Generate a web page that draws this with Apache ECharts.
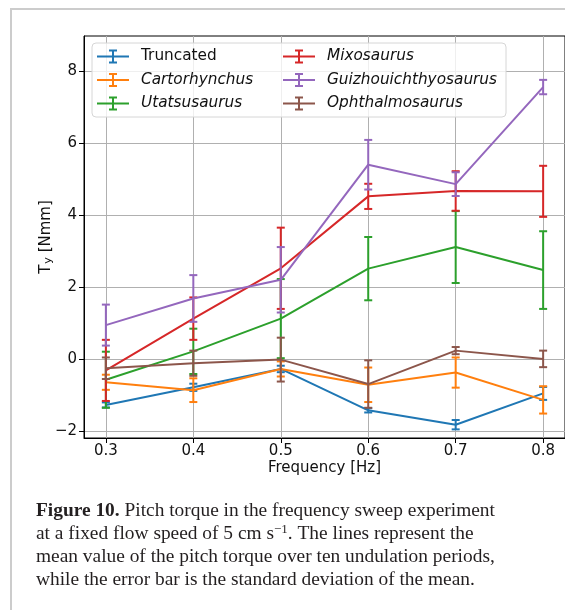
<!DOCTYPE html>
<html>
<head>
<meta charset="utf-8">
<script src="https://cdn.jsdelivr.net/npm/echarts@6/dist/echarts.min.js"></script>
<style>
  html, body { margin: 0; padding: 0; background: #fff; }
  #chart { width: 565px; height: 610px; }
</style>
</head>
<body>
<div id="chart"></div>
<script>
// frequencies (Hz)
const freq = [0.3, 0.4, 0.5, 0.6, 0.7, 0.8]

// mean pitch torque and its standard deviation, per model
const truncatedMean = [-1.27, -0.78, -0.27, -1.42, -1.82, -0.95]
const truncatedErr = [0.07, 0.10, 0.09, 0.06, 0.13, 0.18]
const cartorhynchusMean = [-0.64, -0.86, -0.27, -0.71, -0.37, -1.13]
const cartorhynchusErr = [0.21, 0.33, 0.21, 0.48, 0.42, 0.38]
const utatsusaurusMean = [-0.57, 0.22, 1.13, 2.52, 3.12, 2.48]
const utatsusaurusErr = [0.78, 0.63, 1.10, 0.88, 1.00, 1.08]
const mixosaurusMean = [-0.31, 1.13, 2.53, 4.53, 4.68, 4.67]
const mixosaurusErr = [0.85, 0.59, 1.13, 0.35, 0.55, 0.71]
const guizhouMean = [0.95, 1.69, 2.21, 5.41, 4.87, 7.57]
const guizhouErr = [0.57, 0.65, 0.91, 0.69, 0.33, 0.20]
const ophthalmoMean = [-0.25, -0.11, -0.01, -0.69, 0.24, 0.01]
const ophthalmoErr = [0.30, 0.35, 0.61, 0.66, 0.10, 0.23]

// tick labels
const xTicks = [0.3, 0.4, 0.5, 0.6, 0.7, 0.8]
const yTicks = [-2, 0, 2, 4, 6, 8]

const models = [
  { name: 'Truncated', mean: truncatedMean, err: truncatedErr, color: '#1f77b4' },
  { name: 'Cartorhynchus', mean: cartorhynchusMean, err: cartorhynchusErr, color: '#ff7f0e' },
  { name: 'Utatsusaurus', mean: utatsusaurusMean, err: utatsusaurusErr, color: '#2ca02c' },
  { name: 'Mixosaurus', mean: mixosaurusMean, err: mixosaurusErr, color: '#d62728' },
  { name: 'Guizhouichthyosaurus', mean: guizhouMean, err: guizhouErr, color: '#9467bd' },
  { name: 'Ophthalmosaurus', mean: ophthalmoMean, err: ophthalmoErr, color: '#8c564b' },
]

const FONT = 'DejaVu Sans'
const TEXT = '#111'
// errorbar-like legend handle
const ERR_ICON = 'path://M0,6h32v2h-32z M15,0h2v14h-2z M12,0h8v2h-8z M12,12h8v2h-8z'

function errorItem(params, api) {
  const x = api.value(0)
  const y = api.value(1)
  const e = api.value(2)
  const top = api.coord([x, y + e])
  const bot = api.coord([x, y - e])
  const hw = 4
  const style = { stroke: api.visual('color'), lineWidth: 2 }
  return {
    type: 'group',
    children: [
      { type: 'line', shape: { x1: top[0], y1: top[1], x2: bot[0], y2: bot[1] }, style },
      { type: 'line', shape: { x1: top[0] - hw, y1: top[1], x2: top[0] + hw, y2: top[1] }, style },
      { type: 'line', shape: { x1: bot[0] - hw, y1: bot[1], x2: bot[0] + hw, y2: bot[1] }, style },
    ],
  }
}

const series = []
models.forEach((m, i) => {
  series.push({
    name: m.name,
    type: 'line',
    data: freq.map((f, k) => [f, m.mean[k]]),
    showSymbol: false,
    symbol: 'none',
    color: m.color,
    lineStyle: { color: m.color, width: 2 },
    z: 3 + i * 2,
  })
  series.push({
    name: m.name,
    type: 'custom',
    renderItem: errorItem,
    data: freq.map((f, k) => [f, m.mean[k], m.err[k]]),
    encode: { x: 0, y: 1 },
    itemStyle: { color: m.color },
    z: 4 + i * 2,
  })
})

const legendBase = {
  orient: 'vertical',
  top: 49,
  padding: 0,
  itemWidth: 32,
  itemHeight: 14,
  itemGap: 8.5,
  z: 120,
  icon: ERR_ICON,
  itemStyle: { borderWidth: 0 },
  textStyle: {
    fontFamily: FONT,
    fontSize: 15.3,
    lineHeight: 15,
    color: TEXT,
    padding: [0, 0, 0, 7],
    rich: { i: { fontStyle: 'italic', fontFamily: FONT, fontSize: 15.3, color: TEXT } },
  },
  formatter: name => (name === 'Truncated' ? name : '{i|' + name + '}'),
}

const chart = echarts.init(document.getElementById('chart'), null, { renderer: 'canvas' })
chart.setOption({
  animation: false,
  backgroundColor: '#fff',
  title: {
    left: 36,
    top: 500,
    padding: 0,
    text:
      '{b|Figure 10.} Pitch torque in the frequency sweep experiment\n' +
      'at a fixed flow speed of 5 cm s{sup|−1}. The lines represent the\n' +
      'mean value of the pitch torque over ten undulation periods,\n' +
      'while the error bar is the standard deviation of the mean.',
    textStyle: {
      fontFamily: 'Liberation Serif',
      fontSize: 19.4,
      fontWeight: 'normal',
      lineHeight: 22.7,
      color: '#231f20',
      rich: {
        b: { fontFamily: 'Liberation Serif', fontSize: 19.4, fontWeight: 'bold', color: '#231f20', lineHeight: 22.7 },
        sup: { fontFamily: 'Liberation Serif', fontSize: 13, color: '#231f20', verticalAlign: 'top', lineHeight: 22.7, padding: [0, 0, 6, 0] },
      },
    },
  },
  graphic: [
    {
      type: 'rect',
      shape: { x: 11, y: 9, width: 620, height: 700 },
      style: { fill: 'none', stroke: '#cccccc', lineWidth: 2 },
      z: 1,
    },
    {
      type: 'rect',
      shape: { x: 92, y: 43, width: 414, height: 74, r: 4 },
      style: { fill: 'rgba(255,255,255,0.8)', stroke: '#d6d6d6', lineWidth: 1 },
      z: 100,
    },
  ],
  legend: [
    Object.assign({}, legendBase, { left: 97, data: models.slice(0, 3).map(m => m.name) }),
    Object.assign({}, legendBase, { left: 283, data: models.slice(3).map(m => m.name) }),
  ],
  grid: {
    left: 84,
    top: 36,
    width: 482,
    height: 402,
    show: true,
    borderColor: '#000',
    borderWidth: 1,
  },
  xAxis: {
    type: 'value',
    min: 0.275,
    max: 0.825,
    name: 'Frequency [Hz]',
    nameLocation: 'middle',
    nameGap: 22.5,
    nameMoveOverlap: false,
    nameTextStyle: { fontFamily: FONT, fontSize: 15, color: TEXT },
    axisLine: { show: true, onZero: false, lineStyle: { color: '#000', width: 1 } },
    axisTick: { show: true, inside: false, length: 5, lineStyle: { color: '#000' }, customValues: xTicks },
    axisLabel: {
      customValues: xTicks,
      margin: 6,
      fontFamily: FONT,
      fontSize: 15,
      color: TEXT,
      formatter: v => v.toFixed(1),
    },
    splitLine: { show: true, lineStyle: { color: '#b0b0b0', width: 1 } },
  },
  yAxis: {
    type: 'value',
    min: -2.19,
    max: 8.99,
    name: '{t|T}{s|y}{t| [Nmm]}',
    nameLocation: 'middle',
    nameRotate: 90,
    nameGap: 30,
    nameMoveOverlap: false,
    nameTextStyle: {
      fontFamily: FONT,
      fontSize: 15,
      color: TEXT,
      rich: {
        t: { fontFamily: FONT, fontSize: 15, color: TEXT },
        s: { fontFamily: FONT, fontSize: 11, color: TEXT, verticalAlign: 'bottom', padding: [4, 0, 0, 1] },
      },
    },
    axisLine: { show: true, onZero: false, lineStyle: { color: '#000', width: 1 } },
    axisTick: { show: true, inside: false, length: 5, lineStyle: { color: '#000' }, customValues: yTicks },
    axisLabel: {
      customValues: yTicks,
      margin: 7,
      fontFamily: FONT,
      fontSize: 15,
      color: TEXT,
      formatter: v => String(Math.round(v)).replace('-', '\u2212'),
    },
    splitLine: { show: true, lineStyle: { color: '#b0b0b0', width: 1 } },
  },
  series,
})
</script>
</body>
</html>
